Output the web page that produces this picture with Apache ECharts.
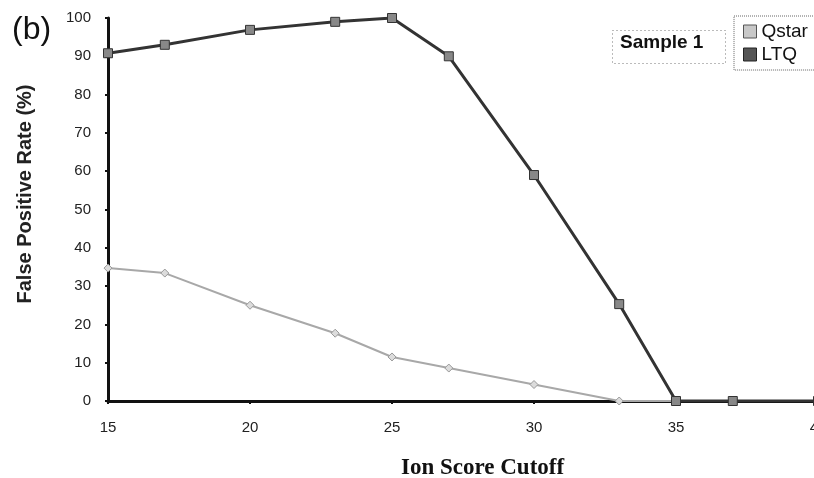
<!DOCTYPE html>
<html><head><meta charset="utf-8">
<script src="https://cdn.jsdelivr.net/npm/echarts@6/dist/echarts.min.js"></script>
<style>html,body{margin:0;padding:0;background:#fff}#c{width:814px;height:478px}</style>
</head><body><div id="c"></div>
<script>
const cutoffs = [15, 17, 20, 23, 25, 27, 30, 33, 35, 37, 40];
const qstar = [34.7, 33.4, 25, 17.7, 11.5, 8.6, 4.3, 0, 0, 0, 0];
const ltq = [90.8, 93, 96.9, 99, 100, 90, 59, 25.3, 0, 0, 0];
const xTicks = [15, 20, 25, 30, 35, 40];
const yTicks = [0, 10, 20, 30, 40, 50, 60, 70, 80, 90, 100];

const chart = echarts.init(document.getElementById('c'));
const pair = (ys) => cutoffs.map((x, i) => [x, ys[i]]);
chart.setOption({
  animation: false,
  backgroundColor: '#fff',
  grid: { left: 108, width: 710, top: 18, height: 383, containLabel: false, outerBoundsMode: 'none' },
  xAxis: {
    type: 'value', min: xTicks[0], max: xTicks[xTicks.length - 1], interval: 5,
    axisLine: { onZero: false, lineStyle: { color: '#111', width: 3 } },
    axisTick: { show: true, length: 3, lineStyle: { color: '#111', width: 2 } },
    splitLine: { show: false },
    axisLabel: { color: '#222', fontFamily: 'Liberation Sans, Arial', fontSize: 15, margin: 19 }
  },
  yAxis: {
    type: 'value', min: yTicks[0], max: yTicks[yTicks.length - 1], interval: 10,
    axisLine: { show: true, lineStyle: { color: '#111', width: 3 } },
    axisTick: { show: true, length: 3, lineStyle: { color: '#111', width: 2 } },
    splitLine: { show: false },
    axisLabel: { color: '#222', fontFamily: 'Liberation Sans, Arial', fontSize: 15, margin: 17 }
  },
  legend: {
    orient: 'vertical', left: 734, top: 16, itemWidth: 13, itemHeight: 13, itemGap: 4,
    borderColor: '#666', borderWidth: 1, borderType: 'dotted', padding: [6, 8, 6, 9],
    textStyle: { color: '#111', fontFamily: 'Liberation Sans, Arial', fontSize: 19 },
    data: [
      { name: 'Qstar', icon: 'rect', itemStyle: { color: '#c8c8c8', borderColor: '#555', borderWidth: 1 } },
      { name: 'LTQ', icon: 'rect', itemStyle: { color: '#555', borderColor: '#222', borderWidth: 1 } }
    ]
  },
  graphic: [
    { type: 'text', left: 12, top: 14, style: { text: '(b)', fontSize: 32, fontFamily: 'Liberation Sans, Arial', fill: '#111' } },
    { type: 'rect', left: 610, top: 28, shape: { width: 113, height: 33 }, style: { fill: 'none', stroke: '#777', lineWidth: 1, lineDash: [1, 3] } },
    { type: 'text', left: 620, top: 33, style: { text: 'Sample 1', fontSize: 19, fontWeight: 'bold', fontFamily: 'Liberation Sans, Arial', fill: '#111' } },
    { type: 'text', x: 25, y: 194, rotation: Math.PI / 2, style: { text: 'False Positive Rate (%)', align: 'center', verticalAlign: 'middle', fontSize: 20, fontWeight: 'bold', fontFamily: 'Liberation Sans, Arial', fill: '#222' } },
    { type: 'text', left: 401, top: 457, style: { text: 'Ion Score Cutoff', fontSize: 23, fontWeight: 'bold', fontFamily: 'Liberation Serif, Times New Roman', fill: '#111' } }
  ],
  series: [
    {
      name: 'Qstar', type: 'line', data: pair(qstar), symbol: 'diamond', symbolSize: 8,
      lineStyle: { color: '#a8a8a8', width: 2 },
      itemStyle: { color: '#dcdcdc', borderColor: '#999', borderWidth: 1 }, z: 2
    },
    {
      name: 'LTQ', type: 'line', data: pair(ltq), symbol: 'rect', symbolSize: 9,
      lineStyle: { color: '#333', width: 3 },
      itemStyle: { color: '#888', borderColor: '#333', borderWidth: 1 }, z: 3
    }
  ]
});
</script></body></html>
